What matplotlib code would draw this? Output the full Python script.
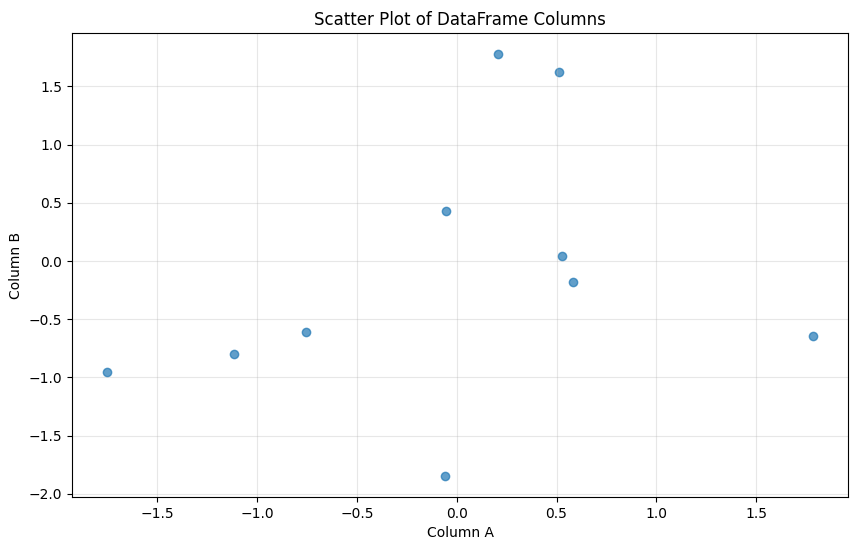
import matplotlib
matplotlib.use("Agg")
import matplotlib.pyplot as plt

col_a = [0.206, 0.511, -0.055, 0.526, 0.580, 1.785, -0.757, -1.113, -1.750, -0.060]
col_b = [1.776, 1.620, 0.430, 0.043, -0.180, -0.647, -0.610, -0.800, -0.950, -1.845]

fig = plt.figure(figsize=(8.57, 5.47), dpi=100)
ax = fig.add_axes([0.084, 0.0915, 0.906, 0.848])
ax.scatter(col_a, col_b, alpha=0.7)
ax.set_xlabel("Column A")
ax.set_ylabel("Column B")
ax.set_title("Scatter Plot of DataFrame Columns")
ax.grid(True, alpha=0.3)
fig.savefig("out.png", dpi=100)
